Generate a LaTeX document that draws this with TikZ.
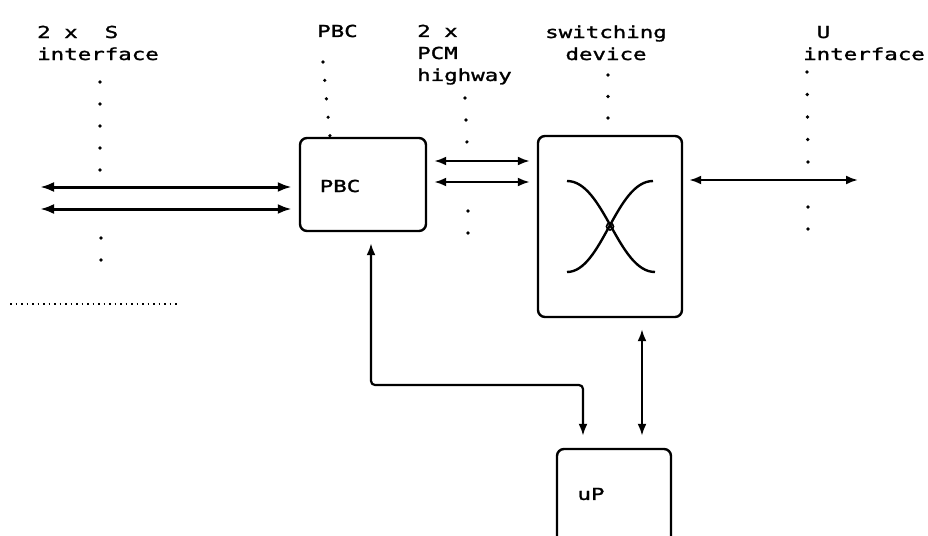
\documentclass[tikz,border=0pt]{standalone}
\usepackage{fontspec}
\usetikzlibrary{arrows.meta}
\newfontfamily\plotfont[FakeStretch=1.36, FakeBold=1.5]{DejaVu Sans Mono}
\begin{document}
\begin{tikzpicture}[x=1pt,y=-1pt,
  lbl/.style={font=\plotfont\fontsize{16.5}{22}\selectfont, inner sep=0pt, align=left, anchor=base west},
  blk/.style={draw, line width=2.4pt, rounded corners=7pt, inner sep=0pt},
  arr/.style={line width=2.2pt, {Latex[length=12pt,width=9pt]}-{Latex[length=12pt,width=9pt]}},
  thickarr/.style={line width=3pt, {Latex[length=14pt,width=10pt]}-{Latex[length=14pt,width=10pt]}},
  dots/.style={line width=3.6pt, line cap=round, dash pattern=on 0pt off 22pt},
  fdots/.style={line width=1.8pt, dash pattern=on 1.5pt off 4pt}]
\useasboundingbox (0,0) rectangle (928,535);
\clip (0,0) rectangle (928,535);
\fill[white] (0,0) rectangle (928,535);
% dotted guide lines
\draw[dots] (100,82) -- (100,172);
\draw[dots] (101,238) -- (101,262);
\draw[dots, dash pattern=on 0pt off 18.5pt] (323,62) -- (330,137);
\draw[dots] (465,98) -- (467,143);
\draw[dots] (468,211) -- (468,234);
\draw[dots, dash pattern=on 0pt off 21.5pt] (608,75) -- (608,118);
\draw[dots, dash pattern=on 0pt off 22.5pt] (807,72) -- (808,162);
\draw[dots] (808,207) -- (808,229);
\draw[fdots] (10,304) -- (180,304);
% labels (anchor = baseline of last line)
\node[lbl] (lS) at (37,60) {2 x\ \ S\\interface};
\node[lbl] (lPBC) at (317,37) {PBC};
\node[lbl] (lPCM) at (417,81) {2 x\\PCM\\highway};
\node[lbl, align=center, anchor=base] (lSW) at (606,60) {switching\\device};
\node[lbl] (lU) at (803,60) {\phantom{i}U\\interface};
% blocks
\node[blk, minimum width=126pt, minimum height=93pt] (pbc) at (363,184.5) {};
\node[lbl, anchor=center] (pbct) at (340,186) {PBC};
\node[blk, minimum width=144pt, minimum height=181pt] (sw) at (610,226.5) {};
\node[blk, minimum width=114pt, minimum height=140pt] (up) at (614,519) {};
\node[lbl, anchor=center] (upt) at (591,494) {uP};
% crossing curves
\draw[line width=2.4pt] (567,181) .. controls (604,181) and (618,272) .. (655,272);
\draw[line width=2.4pt] (653,181) .. controls (616,181) and (602,272) .. (567,272);
\draw[line width=1.6pt] (610,226.5) circle (3.5pt);
% connectors
\coordinate (s1) at (40,187);
\coordinate (s2) at (40,209);
\draw[thickarr, shorten >=7pt] (s1) -- (pbc.west |- s1);
\draw[thickarr, shorten >=7pt] (s2) -- (pbc.west |- s2);
\draw[arr, shorten <=7pt, shorten >=7pt] (pbc.east |- 0,161) -- (sw.west |- 0,161);
\draw[arr, shorten <=7pt, shorten >=7pt] (pbc.east |- 0,182) -- (sw.west |- 0,182);
\coordinate (uend) at (858,180);
\draw[arr, shorten <=6pt] (sw.east |- uend) -- (uend);
\draw[arr, rounded corners=4pt, shorten <=11pt, shorten >=12pt] (pbc.south -| 371,0) -- (371,385) -- (583,385) -- (up.north -| 583,0);
\draw[arr, shorten <=11pt, shorten >=12pt] (sw.south -| 642,0) -- (up.north -| 642,0);
\end{tikzpicture}
\end{document}
